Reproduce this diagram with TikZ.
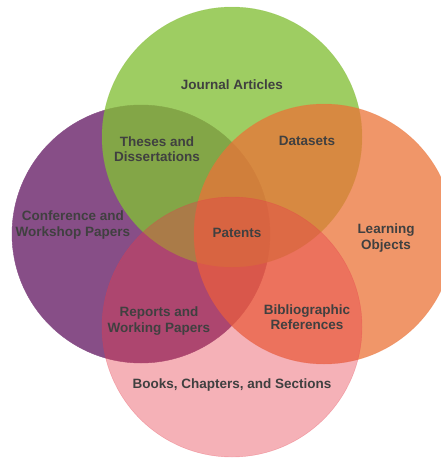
\documentclass[tikz,border=0pt]{standalone}
\usepackage{fontspec}
\setmainfont{Liberation Sans}
\definecolor{purplec}{RGB}{135,78,135}
\definecolor{greenc}{RGB}{131,191,54}
\definecolor{orangec}{RGB}{235,115,55}
\definecolor{pinkc}{RGB}{230,60,75}
\definecolor{txt}{RGB}{64,64,64}
\begin{document}
\begin{tikzpicture}[x=1pt,y=-1pt,
  lbl/.style={text=txt,font=\bfseries\fontsize{13.5}{15.5}\selectfont,align=center,inner sep=0pt},
  setpurple/.style={fill=purplec,draw=purplec,line width=0.4pt},
  setgreen/.style={fill=greenc,draw=greenc,fill opacity=0.78,draw opacity=0.4,line width=0.4pt},
  setorange/.style={fill=orangec,draw=orangec,fill opacity=0.75,draw opacity=0.4,line width=0.4pt},
  setpink/.style={fill=pinkc,draw=pinkc,fill opacity=0.4,draw opacity=0.35,line width=0.4pt}]
\useasboundingbox (0,0) rectangle (441,458);
\fill[white] (0,0) rectangle (441,458);
\begin{scope}
\clip (0,0) rectangle (441,458);
\path[setpurple] (141,234) circle (129);
\path[setgreen] (232,137) circle (130);
\path[setorange] (324,234) circle (130);
\path[setpink] (232,327) circle (130);
\end{scope}
\node[lbl] (journal) at (232,85) {Journal Articles};
\node[lbl] (theses) at (157,149) {Theses and\\Dissertations};
\node[lbl] (datasets) at (307,141) {Datasets};
\node[lbl] (conf) at (73,225) {Conference and\\Workshop Papers};
\node[lbl] (patents) at (237,233) {Patents};
\node[lbl] (learning) at (386,238) {Learning\\Objects};
\node[lbl] (reports) at (159,321) {Reports and\\Working Papers};
\node[lbl] (biblio) at (307,317) {Bibliographic\\References};
\node[lbl] (books) at (232,385) {Books, Chapters, and Sections};
\end{tikzpicture}
\end{document}
